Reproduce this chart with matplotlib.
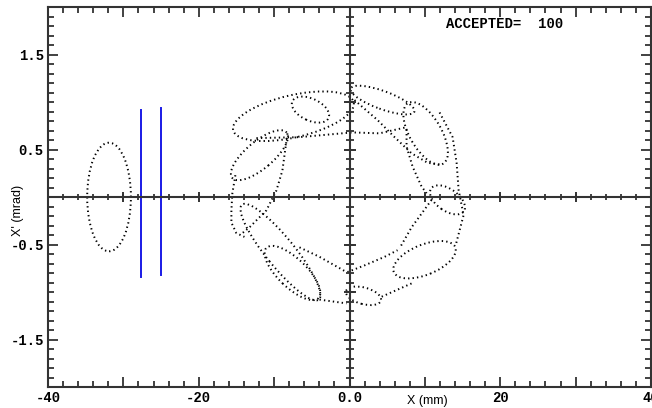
import matplotlib
matplotlib.use("Agg")
import matplotlib.pyplot as plt
import numpy as np
from matplotlib.patches import Ellipse
from matplotlib.transforms import Affine2D

plt.rcParams['axes.unicode_minus'] = False

# beam ellipses: centre (mm, mrad), full axes in "visual mm", tilt in degrees
ell_x = [-31.9, -7.44, -5.18, -11.95, -9.16, -7.57, 1.86, 9.96, 13.0, 10.1, 4.38]
ell_y = [0.0, 0.85, 0.92, 0.44, -0.58, -0.80, -1.04, -0.66, -0.03, 0.67, 1.02]
ell_w = [5.8, 16.4, 5.3, 9.4, 16.2, 9.6, 4.8, 8.8, 5.3, 9.3, 9.0]
ell_h = [14.4, 5.6, 2.9, 3.6, 3.8, 3.8, 2.2, 4.0, 2.9, 4.2, 2.4]
ell_ang = [0, 13, -25, 40, -51, -44, -15, 22, -35, -60, -20]

# dotted tracks between ellipses
path_x = [
    [-12.35, -6.64, 0.40, 3.98, 7.30],
    [0.66, 3.72, 5.98, 8.23, 10.36, 12.22],
    [7.57, 7.57, 8.37, 9.56, 10.23],
    [11.95, 13.68, 14.21, 14.48, 15.14, 14.08],
    [10.89, 8.23, 6.64],
    [8.23, 4.25],
    [-6.64, -3.98, -0.40],
    [-0.27, 1.99, 4.65, 6.37],
    [-8.23, -8.90, -9.69, -11.02, -13.28, -14.21],
    [-15.14, -15.54, -15.67, -15.67, -15.01, -13.94],
    [-3.98, -0.40],
]
path_y = [
    [0.62, 0.63, 0.68, 0.67, 0.73],
    [1.02, 0.81, 0.63, 0.46, 0.36, 0.34],
    [0.71, 0.53, 0.32, 0.11, 0.04],
    [0.89, 0.63, 0.36, 0.07, -0.19, -0.51],
    [-0.03, -0.32, -0.54],
    [-0.91, -1.05],
    [-0.53, -0.63, -0.79],
    [-0.79, -0.72, -0.63, -0.56],
    [0.67, 0.28, 0.07, -0.14, -0.32, -0.38],
    [0.23, 0.04, -0.14, -0.27, -0.38, -0.42],
    [-1.08, -1.12],
]

# slits (blue)
slit_x = [-27.6, -25.0]
slit_y0 = [-0.84, -0.82]
slit_y1 = [0.92, 0.94]

x_lim = [-40, 40]
y_lim = [-2, 2]
x_ticklabels = ['-40', '', '-20', '', '0.0', '', '20', '', '40']
y_labels = [-1.5, -0.5, 0.5, 1.5]

W, H = 652, 408
fig = plt.figure(figsize=(W / 100, H / 100), dpi=100)
ax_l, ax_b, ax_w, ax_h = 48 / W, 21 / H, 603 / W, 380 / H
ax = fig.add_axes([ax_l, ax_b, ax_w, ax_h])
ax.set_xlim(x_lim)
ax.set_ylim(y_lim)

# ratio to draw ellipses with their visual tilt
K = (ax_h * H / 4) / (ax_w * W / 80)
trans = Affine2D().scale(1, 1 / K) + ax.transData

dot = (0, (0.7, 1.6))
for i in range(len(ell_x)):
    e = Ellipse((ell_x[i], ell_y[i] * K), ell_w[i], ell_h[i], angle=ell_ang[i],
                fill=False, ec='black', lw=1.4, ls=dot, transform=trans)
    ax.add_patch(e)

for px, py in zip(path_x, path_y):
    ax.plot(px, py, color='black', lw=1.4, ls=dot)

for i in range(len(slit_x)):
    ax.plot([slit_x[i], slit_x[i]], [slit_y0[i], slit_y1[i]], color='#1a1ae6', lw=1.4)

# axes through the origin with crossing ticks
axc = '#333333'
ax.axhline(0, color=axc, lw=1.5)
ax.axvline(0, color=axc, lw=1.5)
xt = np.arange(-38, 39, 2)
ax.plot(xt, np.zeros_like(xt), ls='none', marker='|', ms=4.5, mew=1.3, color=axc)
xt10 = np.arange(-30, 31, 10)
ax.plot(xt10, np.zeros_like(xt10), ls='none', marker='|', ms=6.5, mew=1.4, color=axc)
yt = np.arange(-1.9, 2.0, 0.1)
ax.plot(np.zeros_like(yt), yt, ls='none', marker='_', ms=5.5, mew=1.3, color=axc)
yt5 = np.arange(-1.5, 1.6, 0.5)
ax.plot(np.zeros_like(yt5), yt5, ls='none', marker='_', ms=8, mew=1.4, color=axc)

for s in ax.spines.values():
    s.set_color(axc)
    s.set_linewidth(1.5)

ax.set_xticks(np.arange(-40, 41, 10))
ax.set_xticks(np.arange(-40, 41, 2), minor=True)
ax.set_xticklabels(x_ticklabels)
ax.set_yticks(y_labels)
ax.set_yticks(np.arange(-2, 2.01, 0.1), minor=True)
ax.set_yticklabels([str(v) for v in y_labels])
ax.tick_params(which='both', direction='in', top=True, right=True, color=axc, width=1.3)
ax.tick_params(which='major', length=7)
ax.tick_params(which='minor', length=4)
mono = matplotlib.font_manager.FontProperties(family='Liberation Mono', weight='bold', size=10)
for lab in ax.get_xticklabels() + ax.get_yticklabels():
    lab.set_fontproperties(mono)
ax.tick_params(axis='x', pad=3)
ax.tick_params(axis='y', pad=3)

ax.text((446 - 48) / 603, 0.975, 'ACCEPTED=  100', transform=ax.transAxes, ha='left', va='top',
        fontfamily='Liberation Mono', fontweight='bold', fontsize=10)
fig.text(18 / W, 1 - 210 / H, "X' (mrad)", rotation=90, ha='center', va='center',
         fontfamily='Liberation Sans', fontsize=9)
fig.text(427 / W, 1 - 401 / H, 'X (mm)', ha='center', va='center',
         fontfamily='Liberation Sans', fontsize=9)

fig.savefig('out.png', dpi=100)
